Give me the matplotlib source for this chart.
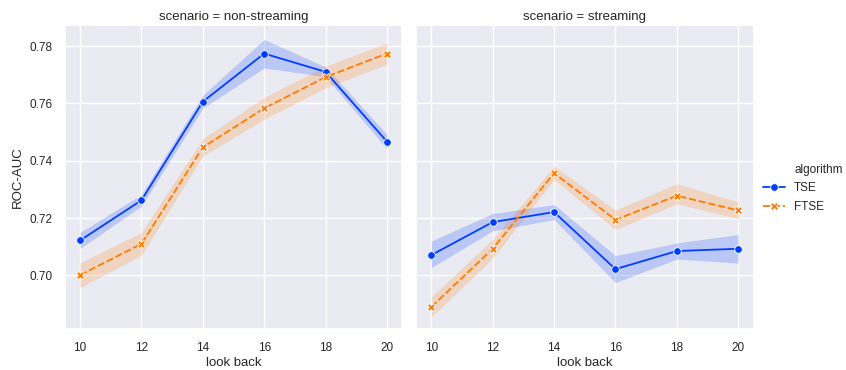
import numpy as np
import matplotlib
matplotlib.use("Agg")
import matplotlib.pyplot as plt
import seaborn as sns
from matplotlib.lines import Line2D

look_back = [10, 12, 14, 16, 18, 20]
scenarios = ["non-streaming", "streaming"]
algorithms = ["TSE", "FTSE"]

# non-streaming
tse_ns_mean = [0.7122, 0.7262, 0.7606, 0.7774, 0.7710, 0.7467]
tse_ns_low = [0.7094, 0.7242, 0.7583, 0.7724, 0.7693, 0.7442]
tse_ns_high = [0.7150, 0.7282, 0.7629, 0.7823, 0.7727, 0.7492]
ftse_ns_mean = [0.7001, 0.7110, 0.7447, 0.7583, 0.7692, 0.7774]
ftse_ns_low = [0.6958, 0.7070, 0.7417, 0.7545, 0.7654, 0.7737]
ftse_ns_high = [0.7044, 0.7150, 0.7477, 0.7621, 0.7730, 0.7811]

# streaming
tse_s_mean = [0.7071, 0.7186, 0.7221, 0.7022, 0.7085, 0.7093]
tse_s_low = [0.7027, 0.7156, 0.7195, 0.6975, 0.7057, 0.7043]
tse_s_high = [0.7120, 0.7216, 0.7247, 0.7069, 0.7113, 0.7143]
ftse_s_mean = [0.6890, 0.7093, 0.7357, 0.7194, 0.7278, 0.7227]
ftse_s_low = [0.6855, 0.7060, 0.7335, 0.7160, 0.7250, 0.7198]
ftse_s_high = [0.6925, 0.7126, 0.7381, 0.7228, 0.7320, 0.7256]

data = {
    "non-streaming": {
        "TSE": (tse_ns_mean, tse_ns_low, tse_ns_high),
        "FTSE": (ftse_ns_mean, ftse_ns_low, ftse_ns_high),
    },
    "streaming": {
        "TSE": (tse_s_mean, tse_s_low, tse_s_high),
        "FTSE": (ftse_s_mean, ftse_s_low, ftse_s_high),
    },
}

sns.set_theme(style="darkgrid")
plt.rcParams["font.family"] = ["Liberation Sans", "DejaVu Sans"]

colors = {"TSE": "#023eff", "FTSE": "#ff7c00"}
styles = {
    "TSE": dict(linestyle="-", marker="o", markersize=5.5),
    "FTSE": dict(linestyle=(0, (4, 1.5)), marker="X", markersize=5.5),
}

fig = plt.figure(figsize=(8.46, 3.70), dpi=100)
ax1 = fig.add_axes([0.0765, 0.110, 0.3990, 0.822])
ax2 = fig.add_axes([0.4917, 0.110, 0.3990, 0.822], sharey=ax1)
axes = [ax1, ax2]

for ax, sc in zip(axes, scenarios):
    for alg in algorithms:
        m, lo, hi = data[sc][alg]
        ax.fill_between(look_back, lo, hi, color=colors[alg], alpha=0.2, linewidth=0)
        ax.plot(look_back, m, color=colors[alg], linewidth=1.3,
                markeredgecolor="white", markeredgewidth=0.6, **styles[alg])
    ax.set_title(f"scenario = {sc}", fontsize=9.5, pad=4)
    ax.set_xlabel("look back", fontsize=9.5, labelpad=2)
    ax.set_xticks(look_back)
    ax.tick_params(labelsize=8.5, pad=3)
    ax.set_xlim(9.5, 20.5)

ax1.set_ylim(0.6812, 0.7873)
ax1.set_yticks([0.70, 0.72, 0.74, 0.76, 0.78])
ax1.set_yticklabels(["0.70", "0.72", "0.74", "0.76", "0.78"])
ax1.set_ylabel("ROC-AUC", fontsize=9.5)
plt.setp(ax2.get_yticklabels(), visible=False)
ax2.tick_params(axis="y", length=0)

handles = [
    Line2D([], [], linestyle="none", marker="none"),
    Line2D([], [], color=colors["TSE"], linewidth=1.3, linestyle="-", marker="o",
           markersize=5.5, markeredgecolor="white", markeredgewidth=0.6),
    Line2D([], [], color=colors["FTSE"], linewidth=1.3, linestyle=(0, (4, 1.5)), marker="X",
           markersize=5.5, markeredgecolor="white", markeredgewidth=0.6),
]
leg = fig.legend(handles, ["algorithm"] + algorithms, loc="center left",
                 bbox_to_anchor=(0.896, 0.491), frameon=False, fontsize=8.5,
                 handlelength=1.85, handletextpad=0.8, labelspacing=0.55,
                 borderaxespad=0)

fig.savefig("out.png", dpi=100)
